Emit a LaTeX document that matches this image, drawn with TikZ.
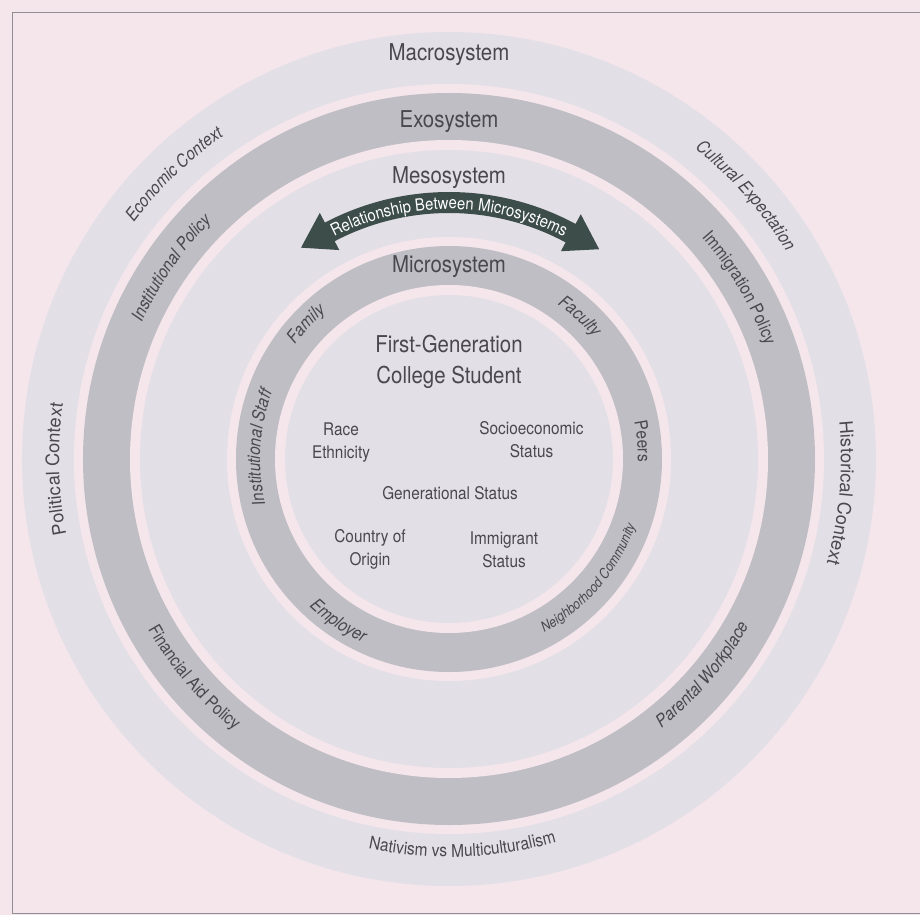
\documentclass[tikz,border=0pt]{standalone}
\usepackage{fontspec}
\setmainfont{TeX Gyre Heros}[FakeStretch=0.88]
\newfontfamily\widefont{TeX Gyre Heros}
\usetikzlibrary{decorations.text}
\usepackage{xcolor}
\definecolor{bgpink}{HTML}{F4E6EB}
\definecolor{lightband}{HTML}{E3DFE7}
\definecolor{darkband}{HTML}{BFBEC4}
\definecolor{arrowgreen}{HTML}{3C4D4A}
\definecolor{labelgray}{HTML}{48484E}
\definecolor{framegray}{HTML}{8E8E94}
\newcommand\ringfont{\fontsize{12.5}{15}\selectfont\itshape\color{labelgray}}
\newcommand\uprightring{\fontsize{12.5}{15}\selectfont\color{labelgray}}
\newcommand\smallringfont{\fontsize{10}{12}\selectfont\itshape\color{labelgray}}
\newcommand\sidefont{\widefont\fontsize{13}{15}\selectfont\color{labelgray}}
\newcommand\arrowfont{\fontsize{12}{14}\selectfont\color{white}}
% label on a ring, letters outward (clockwise): radius, middle angle, text
\newcommand\cwlabel[3]{
  \path[decorate, decoration={text along path, text align=center, text={#3}}]
    (#2+30:#1) arc[start angle=#2+30, end angle=#2-30, radius=#1];
}
% label on a ring, letters inward (counter clockwise)
\newcommand\ccwlabel[3]{
  \path[decorate, decoration={text along path, text align=center, text={#3}}]
    (#2-30:#1) arc[start angle=#2-30, end angle=#2+30, radius=#1];
}
\tikzset{
  titletext/.style={font=\fontsize{16.5}{22}\selectfont, text=labelgray, inner sep=0pt},
  traittext/.style={font=\fontsize{12.4}{16.4}\selectfont, text=labelgray, align=center, inner sep=0pt}
}

\begin{document}
\begin{tikzpicture}[x=0.025cm, y=0.025cm]
    \fill[bgpink] (-449,-456) rectangle (471,459);
    \useasboundingbox (-449,-456) rectangle (471,459);
    \draw[framegray, line width=0.7pt] (476,447) -- (-437,447) -- (-437,-454) -- (476,-454);

    % rings, outside in
    \foreach \r/\c in {427/lightband, 375/bgpink, 366/darkband, 319/bgpink, 309/lightband,
                       222/bgpink, 213/darkband, 174/bgpink, 164/lightband}
        \fill[\c] (0,0) circle[radius=\r];

    \node[titletext] (macro) at (0,404) {Macrosystem};
    \node[titletext] (exo) at (0,337) {Exosystem};
    \node[titletext] (meso) at (0,281) {Mesosystem};
    \node[titletext] (micro) at (0,192) {Microsystem};

    % double arrow between microsystems
    \fill[arrowgreen] (117.7:267) arc[start angle=117.7, end angle=61.7, radius=267]
        -- (61.7:278) -- (54.4:258) -- (61.7:236) -- (61.7:246)
        arc[start angle=61.7, end angle=117.7, radius=246]
        -- (117.7:236) -- (125:258) -- (117.7:278) -- cycle;
    \path[decorate, decoration={text along path, text align=center,
        text={|\arrowfont|Relationship Between Microsystems}}]
        (125:250) arc[start angle=125, end angle=55, radius=250];

    % macrosystem
    \cwlabel{394}{134}{|\ringfont|Economic Context}
    \cwlabel{396}{41.6}{|\ringfont|Cultural Expectation}
    \cwlabel{390}{181.5}{|\sidefont|Political Context}
    \cwlabel{392}{-5}{|\sidefont|Historical Context}
    \ccwlabel{398}{-88}{|\uprightring|Nativism vs Multiculturalism}

    % exosystem
    \cwlabel{336}{145.5}{|\ringfont|Institutional Policy}
    \cwlabel{336}{30.5}{|\uprightring|Immigration Policy}
    \ccwlabel{346}{220.6}{|\uprightring|Financial Aid Policy}
    \ccwlabel{343}{-40.4}{|\ringfont|Parental Workplace}

    % microsystem
    \cwlabel{192}{136.6}{|\ringfont|Family}
    \cwlabel{189}{47.5}{|\ringfont|Faculty}
    \cwlabel{189}{176.5}{|\ringfont|Institutional Staff}
    \cwlabel{189}{5.3}{|\uprightring|Peers}
    \ccwlabel{203}{235.7}{|\ringfont|Employer}
    \ccwlabel{198}{-40.4}{|\smallringfont|Neighborhood Community}

    % student
    \node[titletext, align=center] (student) at (0,97.5) {First-Generation\\College Student};
    \node[traittext] (race) at (-108,16.5) {Race\\Ethnicity};
    \node[traittext] (ses) at (82.5,19.5) {Socioeconomic\\Status};
    \node[traittext] (gen) at (1,-34) {Generational Status};
    \node[traittext] (country) at (-79,-90.5) {Country of\\Origin};
    \node[traittext] (immig) at (55,-90.5) {Immigrant\\Status};
\end{tikzpicture}
\end{document}
